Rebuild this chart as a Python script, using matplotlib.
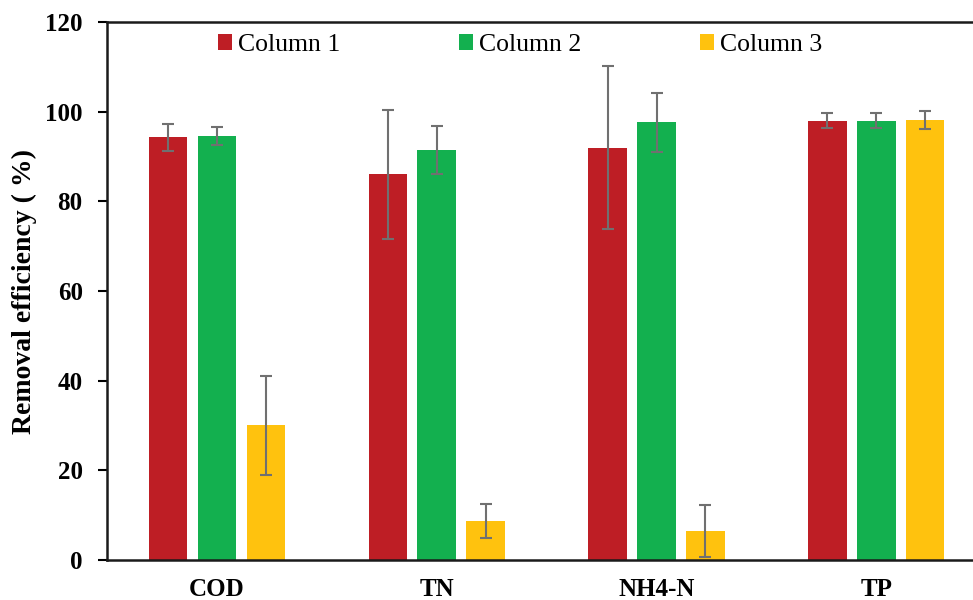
import matplotlib.pyplot as plt
import numpy as np

plt.rcParams['font.family'] = ['Liberation Serif', 'DejaVu Serif']

categories = ['COD', 'TN', 'NH4-N', 'TP']
series_names = ['Column 1', 'Column 2', 'Column 3']
col1 = [94.3, 86.0, 92.0, 98.0]
col2 = [94.6, 91.4, 97.6, 98.0]
col3 = [30.0, 8.6, 6.5, 98.1]
err1 = [3.0, 14.3, 18.1, 1.7]
err2 = [2.0, 5.4, 6.5, 1.7]
err3 = [11.0, 3.8, 5.8, 2.0]

colors = ['#BE1E25', '#13B04F', '#FFC20E']

fig = plt.figure(figsize=(9.73, 6.0), dpi=100)
ax = fig.add_axes([0.110, 0.0667, 0.890, 0.8966])

x = np.arange(len(categories))
width = 0.175
step = 0.2227
for i, (vals, errs) in enumerate(zip([col1, col2, col3], [err1, err2, err3])):
    ax.bar(x + (i - 1) * step, vals, width, color=colors[i], label=series_names[i],
           yerr=errs, ecolor='#707070',
           error_kw=dict(elinewidth=1.5, capsize=4, capthick=1.5), zorder=2)

ax.set_xlim(-0.5, 3.44)
ax.set_ylim(0, 120)
ax.set_yticks(np.arange(0, 121, 20))
ax.set_xticks(x)
ax.set_xticklabels(categories, fontsize=18, fontweight='bold')
for lab in ax.get_yticklabels():
    lab.set_fontsize(18)
    lab.set_fontweight('bold')
ax.tick_params(axis='y', direction='out', length=6.5, width=1.5, pad=11)
ax.tick_params(axis='x', length=0, pad=13)

for s in ['left', 'bottom', 'top']:
    ax.spines[s].set_linewidth(1.8)
    ax.spines[s].set_color('#1a1a1a')
ax.spines['right'].set_visible(False)

ax.set_ylabel('Removal efficiency ( %)', fontsize=20, fontweight='bold')
ax.yaxis.set_label_coords(-0.081, 0.5)

fig.legend(loc='center', bbox_to_anchor=(520 / 973, 1 - 45 / 600), ncol=3,
           frameon=False, fontsize=18.5, handlelength=0.55, handleheight=0.55,
           handletextpad=0.25, columnspacing=4.6)

fig.savefig('out.png', dpi=100)
